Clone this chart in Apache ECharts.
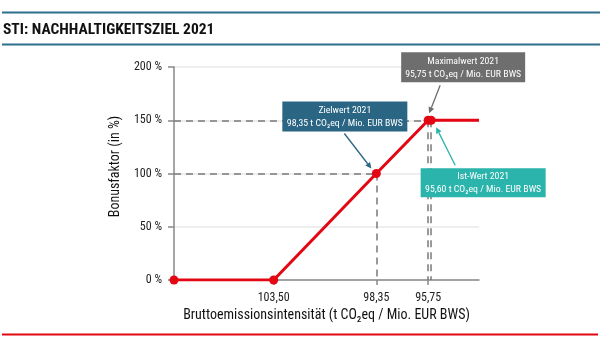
<!DOCTYPE html>
<html><head><meta charset="utf-8">
<script src="https://cdn.jsdelivr.net/npm/echarts@6/dist/echarts.min.js"></script>
<style>html,body{margin:0;padding:0;background:#fff}#c{width:605px;height:342px}</style>
</head><body><div id="c"></div>
<script>
const FONT = '"Roboto Condensed", "Open Sans", sans-serif';
// data
const curvePoints = [[108.5,0],[103.5,0],[98.35,100],[95.75,150],[95.6,150],[93.2,150]];
const markerFlags = [true,true,true,true,true,false];
const xTickValues = [103.5, 98.35, 95.75];
const xTickLabels = ['103,50','98,35','95,75'];
const yTicks = [0,50,100,150,200];
const zielwert = [98.35,100];
const maximalwert = [95.75,150];
const istwert = [95.6,150];
const xMin = 93.2, xMax = 108.5;
const annoZiel = ['Zielwert 2021','98,35 t CO₂eq / Mio. EUR BWS'];
const annoMax = ['Maximalwert 2021','95,75 t CO₂eq / Mio. EUR BWS'];
const annoIst = ['Ist-Wert 2021','95,60 t CO₂eq / Mio. EUR BWS'];

const chart = echarts.init(document.getElementById('c'), null, {renderer:'canvas'});
const dashStyle = {color:'#7a7a7a', width:1.5, type:[7,5]};
const option = {
  animation:false,
  grid:{left:174, right:126, top:67, bottom:62, containLabel:false},
  xAxis:{type:'value', inverse:true, min:xMin, max:xMax,
    axisLine:{show:true, onZero:false, lineStyle:{color:'#888', width:1.5}},
    axisTick:{show:true, customValues:xTickValues, length:5, lineStyle:{color:'#888', width:1.5}},
    axisLabel:{customValues:xTickValues, formatter:v=>{const i=xTickValues.indexOf(+v.toFixed(2));return i>=0?xTickLabels[i]:'';}, color:'#222', fontSize:12, fontFamily:FONT, margin:12},
    splitLine:{show:false},
    name:'Bruttoemissionsintensität (t CO₂eq / Mio. EUR BWS)', nameLocation:'middle', nameGap:26,
    nameTextStyle:{color:'#111', fontSize:14, fontFamily:FONT}
  },
  yAxis:{type:'value', min:0, max:200, interval:50,
    axisLine:{show:true, lineStyle:{color:'#888', width:1.5}},
    axisTick:{show:true, length:6, lineStyle:{color:'#888', width:1.5}},
    axisLabel:{formatter:v=>v+' %', color:'#222', fontSize:12, fontFamily:FONT, margin:12},
    splitLine:{show:true, lineStyle:{color:'#e8e8e8', width:1.5}},
    name:'Bonusfaktor (in %)', nameLocation:'middle', nameGap:50, nameRotate:90,
    nameTextStyle:{color:'#111', fontSize:14, fontFamily:FONT, padding:[0,0,0,14]}
  },
  series:[
    {type:'line', data:[], silent:true, z:1,
     markLine:{silent:true, symbol:'none', label:{show:false}, lineStyle:dashStyle,
       data:[
         [{coord:[xMax,maximalwert[1]]},{coord:maximalwert}],
         [{coord:[xMax,zielwert[1]]},{coord:zielwert}],
         [{coord:zielwert},{coord:[zielwert[0],0]}],
         [{coord:maximalwert},{coord:[maximalwert[0],0]}],
         [{coord:istwert},{coord:[istwert[0],0]}]
       ]}},
    {type:'line', z:5,
     data:curvePoints.map((p,i)=>({value:p, symbol:markerFlags[i]?'circle':'none'})),
     symbolSize:9, itemStyle:{color:'#e30613'}, lineStyle:{color:'#e30613', width:3}}
  ]
};
chart.setOption(option);

function box(left, top, w, h, color, lines){
  return {type:'group', z:100, children:[
    {type:'rect', z:100, shape:{x:left, y:top, width:w, height:h}, style:{fill:color}},
    {type:'text', z:101, x:left+w/2, y:top+h/2+0.5, style:{text:lines.join('\n'), fill:'#fff', font:'9.8px '+FONT, align:'center', verticalAlign:'middle', lineHeight:13}}
  ]};
}
function arrow(x1,y1,x2,y2,color){
  const a=Math.atan2(y2-y1,x2-x1), L=6, W=3;
  const bx=x2-L*Math.cos(a), by=y2-L*Math.sin(a);
  return {type:'group', z:100, children:[
    {type:'line', z:100, shape:{x1:x1,y1:y1,x2:bx,y2:by}, style:{stroke:color, lineWidth:1.3}},
    {type:'polygon', z:100, shape:{points:[[x2,y2],[bx+W*Math.sin(a),by-W*Math.cos(a)],[bx-W*Math.sin(a),by+W*Math.cos(a)]]}, style:{fill:color}}
  ]};
}
const P1 = chart.convertToPixel({gridIndex:0}, zielwert);
const P2 = chart.convertToPixel({gridIndex:0}, maximalwert);
const P3 = chart.convertToPixel({gridIndex:0}, istwert);
const cZ='#2a6584', cM='#6e6e6e', cI='#2bb4ab';
chart.setOption({graphic:[
  {type:'line', shape:{x1:2,y1:12.5,x2:600,y2:12.5}, style:{stroke:'#2f6e8c', lineWidth:2}},
  {type:'text', x:3, y:30.5, style:{text:'STI: NACHHALTIGKEITSZIEL 2021', fill:'#111', font:'bold 15.5px '+FONT, verticalAlign:'middle'}},
  {type:'line', shape:{x1:2,y1:44.5,x2:600,y2:44.5}, style:{stroke:'#2f6e8c', lineWidth:2}},
  {type:'line', shape:{x1:2,y1:334.5,x2:598,y2:334.5}, style:{stroke:'#e30613', lineWidth:2}},
  box(P1[0]-94, P1[1]-72, 125, 30, cZ, annoZiel),
  arrow(P1[0]-32, P1[1]-40, P1[0]-5, P1[1]-5, cZ),
  box(P2[0]-27, P2[1]-68, 124, 30, cM, annoMax),
  arrow(P2[0]+12, P2[1]-35, P2[0]+1, P2[1]-7, cM),
  box(P3[0]-10.5, P3[1]+48, 125, 29, cI, annoIst),
  arrow(P3[0]+24, P3[1]+45, P3[0]+5, P3[1]+7, cI)
]});
</script></body></html>
